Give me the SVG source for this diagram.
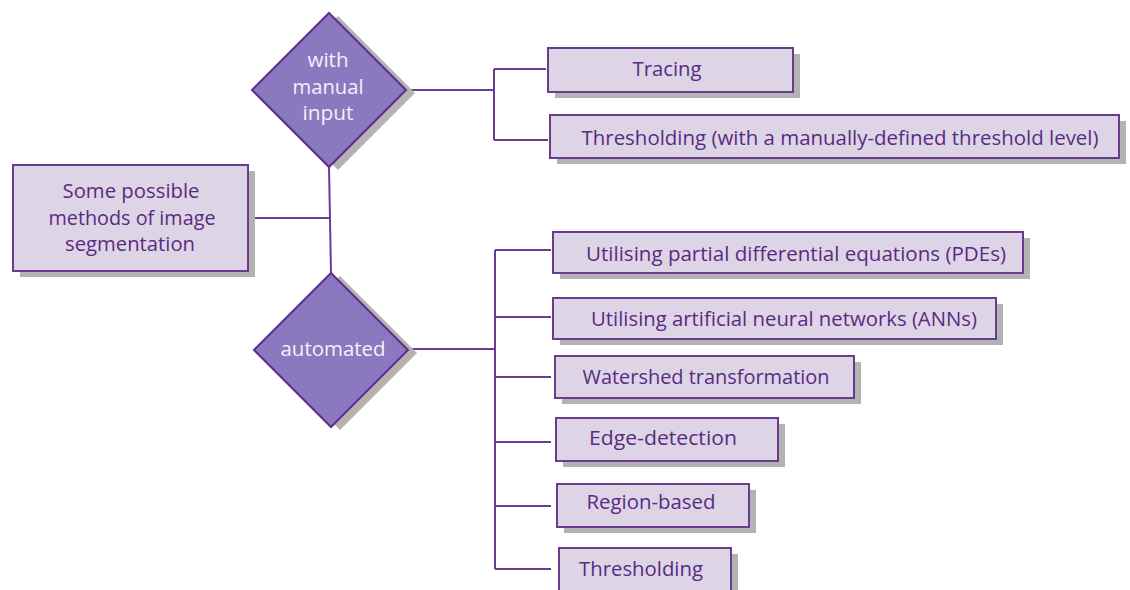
<svg xmlns="http://www.w3.org/2000/svg" width="1130" height="590" viewBox="0 0 1130 590">
  <defs>
    <style>
      .shadow { fill: #b3b3b3; }
      .box { fill: #ddd5e6; stroke: #6a3c8e; stroke-width: 2; }
      .diamond { fill: #8a79bf; stroke: #5f2e8a; stroke-width: 2; }
      .lbl { font-family: "Open Sans", "Noto Sans", sans-serif; font-size: 20.5px; fill: #5a2a82; text-anchor: middle; }
      .dlbl { font-family: "Open Sans", "Noto Sans", sans-serif; font-size: 20.5px; fill: #f3f0f8; text-anchor: middle; }
      .conn { fill: none; stroke: #6b3b90; stroke-width: 2; }
    </style>
  </defs>
  <rect width="1130" height="590" fill="#ffffff"/>

  <!-- connectors -->
  <g id="connectors" class="conn">
    <path d="M406 90 H494 M494 69 V140 M494 69 H546 M494 140 H548"/>
    <path d="M248 218 H330 M329 167 L331 273"/>
    <path d="M409 349 H495 M495 250 V569"/>
    <path d="M495 250 H551 M495 317 H551 M495 377 H551 M495 442 H551 M495 506 H551 M495 569 H551"/>
  </g>

  <!-- root -->
  <g id="root">
    <rect class="shadow" x="20" y="171" width="235" height="106"/>
    <rect class="box" x="13" y="165" width="235" height="106"/>
    <text class="lbl" x="131" y="198" textLength="137" lengthAdjust="spacingAndGlyphs">Some possible</text>
    <text class="lbl" x="132" y="225" textLength="167" lengthAdjust="spacingAndGlyphs">methods of image</text>
    <text class="lbl" x="130" y="251" textLength="130" lengthAdjust="spacingAndGlyphs">segmentation</text>
  </g>

  <!-- manual branch -->
  <g id="manual">
    <polygon class="shadow" points="338,16 415,93 338,170 261,93"/>
    <polygon class="diamond" points="329,13 406,90 329,167 252,90"/>
    <text class="dlbl" x="328" y="67" textLength="41" lengthAdjust="spacingAndGlyphs">with</text>
    <text class="dlbl" x="328" y="94" textLength="71" lengthAdjust="spacingAndGlyphs">manual</text>
    <text class="dlbl" x="328" y="120" textLength="51" lengthAdjust="spacingAndGlyphs">input</text>
  </g>

  <!-- automated branch -->
  <g id="automated">
    <polygon class="shadow" points="340,276 417,353 340,430 263,353"/>
    <polygon class="diamond" points="331,273 408,350 331,427 254,350"/>
    <text class="dlbl" x="333" y="356" textLength="105" lengthAdjust="spacingAndGlyphs">automated</text>
  </g>

  <!-- manual methods -->
  <g id="tracing">
    <rect class="shadow" x="555" y="54" width="245" height="44"/>
    <rect class="box" x="548" y="48" width="245" height="44"/>
    <text class="lbl" x="667" y="76" textLength="69" lengthAdjust="spacingAndGlyphs">Tracing</text>
  </g>
  <g id="thresholding-manual">
    <rect class="shadow" x="557" y="121" width="569" height="43"/>
    <rect class="box" x="550" y="115" width="569" height="43"/>
    <text class="lbl" x="840" y="145" textLength="517" lengthAdjust="spacingAndGlyphs">Thresholding (with a manually-defined threshold level)</text>
  </g>

  <!-- automated methods -->
  <g id="pde">
    <rect class="shadow" x="560" y="238" width="470" height="41"/>
    <rect class="box" x="553" y="232" width="470" height="41"/>
    <text class="lbl" x="796" y="261" textLength="420" lengthAdjust="spacingAndGlyphs">Utilising partial differential equations (PDEs)</text>
  </g>
  <g id="ann">
    <rect class="shadow" x="560" y="304" width="443" height="41"/>
    <rect class="box" x="553" y="298" width="443" height="41"/>
    <text class="lbl" x="784" y="326" textLength="386" lengthAdjust="spacingAndGlyphs">Utilising artificial neural networks (ANNs)</text>
  </g>
  <g id="watershed">
    <rect class="shadow" x="562" y="362" width="299" height="42"/>
    <rect class="box" x="555" y="356" width="299" height="42"/>
    <text class="lbl" x="706" y="384" textLength="247" lengthAdjust="spacingAndGlyphs">Watershed transformation</text>
  </g>
  <g id="edge">
    <rect class="shadow" x="563" y="424" width="222" height="43"/>
    <rect class="box" x="556" y="418" width="222" height="43"/>
    <text class="lbl" x="663" y="445" textLength="148" lengthAdjust="spacingAndGlyphs">Edge-detection</text>
  </g>
  <g id="region">
    <rect class="shadow" x="564" y="490" width="192" height="43"/>
    <rect class="box" x="557" y="484" width="192" height="43"/>
    <text class="lbl" x="651" y="509" textLength="129" lengthAdjust="spacingAndGlyphs">Region-based</text>
  </g>
  <g id="thresholding">
    <rect class="shadow" x="566" y="554" width="172" height="43"/>
    <rect class="box" x="559" y="548" width="172" height="43"/>
    <text class="lbl" x="641" y="576" textLength="124" lengthAdjust="spacingAndGlyphs">Thresholding</text>
  </g>
</svg>
